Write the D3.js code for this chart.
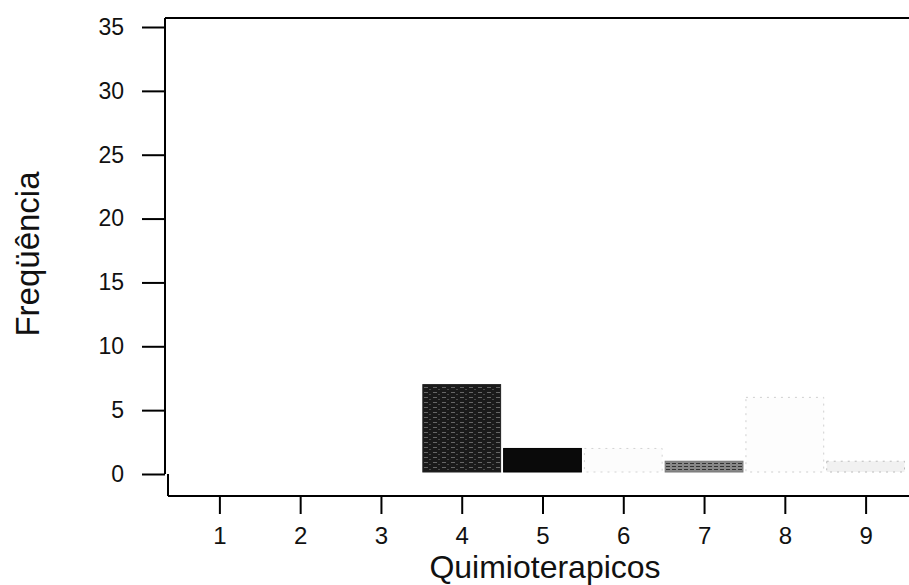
<!DOCTYPE html>
<html>
<head>
  <meta charset="UTF-8">
  <title>Quimioterapicos</title>
  <style>
    body { margin: 0; background: #fff; }
    text { font-family: 'Liberation Sans', Arial, sans-serif; fill: #111; }
  </style>
</head>
<body>
<svg id="chart"></svg>

<script src="https://d3js.org/d3.v7.min.js"></script>
<script>

// data (bars 1-3 are faded out in the original)
const categories = [1, 2, 3, 4, 5, 6, 7, 8, 9];
const frequencies = [23, 33, 5, 7, 2, 2, 1, 6, 1];
const yTicks = [0, 5, 10, 15, 20, 25, 30, 35];

// scanned fills: washed out, speckled dark, black, washed out, grey...
const fills = ["#fff", "#fff", "#fff", "url(#speckle)", "#0a0a0a", "#fcfcfc", "url(#grain)", "#fdfdfd", "#f1f1f1"];
const strokes = ["none", "none", "none", "#222", "#000", "#d4d4d4", "#777", "#cfcfcf", "#bbb"];

const width = 909, height = 585;

let svg = d3.select("#chart")
    .attr("width", width)
    .attr("height", height);

let defs = svg.append("defs");

// speckled texture for the dark bar
let pat = defs.append("pattern")
    .attr("id", "speckle")
    .attr("patternUnits", "userSpaceOnUse")
    .attr("width", 9)
    .attr("height", 5);
pat.append("rect").attr("width", 9).attr("height", 5).style("fill", "#1a1a1a");
pat.append("rect").attr("x", 1).attr("y", 2).attr("width", 4).attr("height", 1).style("fill", "#666");
pat.append("rect").attr("x", 6).attr("y", 4).attr("width", 2).attr("height", 1).style("fill", "#4a4a4a");

// grainy grey for bar 7
let grain = defs.append("pattern")
    .attr("id", "grain")
    .attr("patternUnits", "userSpaceOnUse")
    .attr("width", 6)
    .attr("height", 3);
grain.append("rect").attr("width", 6).attr("height", 3).style("fill", "#888");
grain.append("rect").attr("x", 0).attr("y", 1).attr("width", 4).attr("height", 1).style("fill", "#333");

let x = d3.scaleLinear()
    .domain([0.5, 9.5])
    .range([179, 906]);

let y = d3.scaleLinear()
    .domain([0, 35])
    .range([474, 27]);

// frame (right edge runs off the page)
svg.append("path")
    .attr("d", "M165,18 H" + (width + 5) + " M168,496 H" + (width + 5) + " M168,474 V496")
    .style("fill", "none")
    .style("stroke", "#000")
    .style("stroke-width", 2);

// bars
let barW = x(1) - x(0) - 3;
svg.append("g")
    .selectAll("rect")
    .data(categories)
    .enter()
    .append("rect")
    .attr("x", d => x(d) - barW / 2)
    .attr("y", (d, i) => y(frequencies[i]))
    .attr("width", barW)
    .attr("height", (d, i) => y(0) - y(frequencies[i]) - 2)
    .style("fill", (d, i) => fills[i])
    .style("stroke", (d, i) => strokes[i])
    .style("stroke-width", 1)
    .style("stroke-dasharray", (d, i) => i >= 5 && i != 6 ? "2,5" : null);

// y axis
let yAxis = d3.axisLeft(y)
    .tickValues(yTicks)
    .tickSize(23)
    .tickPadding(18);

let gy = svg.append("g")
    .attr("transform", "translate(165,0)")
    .call(yAxis);
gy.select(".domain").attr("d", "M0,18 V474");
gy.selectAll("line, path").style("stroke", "#000").style("stroke-width", 2);
gy.selectAll("text").style("font-size", "23px");

// x axis
let xAxis = d3.axisBottom(x)
    .tickValues(categories)
    .tickSize(18)
    .tickPadding(13);

let gx = svg.append("g")
    .attr("transform", "translate(0,496)")
    .call(xAxis);
gx.select(".domain").remove();
gx.selectAll("line").style("stroke", "#000").style("stroke-width", 2);
gx.selectAll("text").style("font-size", "24px");

// axis titles
svg.append("text")
    .attr("x", 545)
    .attr("y", 578)
    .attr("text-anchor", "middle")
    .style("font-size", "32px")
    .text("Quimioterapicos");

svg.append("text")
    .attr("transform", "translate(39,254) rotate(-90)")
    .attr("text-anchor", "middle")
    .style("font-size", "33px")
    .text("Freqüência");

</script>
</body>
</html>
